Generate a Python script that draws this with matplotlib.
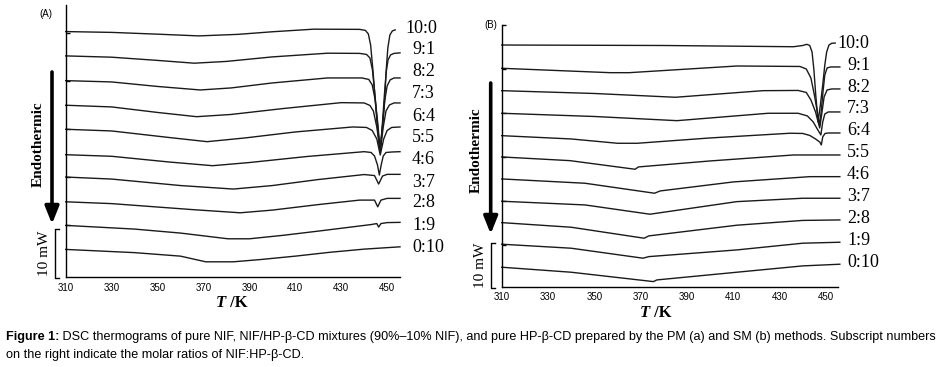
import matplotlib
matplotlib.use("Agg")
import matplotlib.pyplot as plt
from matplotlib.transforms import IdentityTransform
from matplotlib.lines import Line2D

# ---------------- data (heat flow, mW, relative to value at 310 K) ----------------
# Panel A : physical mixtures (PM)
pmT1 = [310, 330, 350, 368, 385, 400, 418, 438, 440.5, 441.8, 442.8, 443.8, 444.8, 445.9, 446.9, 447.9, 448.9, 449.6, 450.3, 451.2, 452.3, 453.5]
pmH1 = [0, -0.17, -0.54, -0.90, -0.58, -0.04, 0.50, 0.46, 0.25, -0.48, -2.77, -7.98, -14.23, -20.48, -24.65, -20.48, -14.23, -7.98, -3.40, -0.69, 0.15, 0.35]
pmT2 = [310, 330, 350, 366, 380, 400, 424, 438, 441, 442.5, 443.6, 444.7, 445.8, 446.9, 447.9, 448.8, 449.6, 450.4, 451.5, 453, 455.6]
pmH2 = [0, -0.27, -0.94, -1.52, -1.15, -0.21, 0.56, 0.52, 0.31, -0.42, -2.92, -8.13, -14.38, -20.0, -14.38, -8.13, -3.33, -0.83, 0.21, 0.52, 0.63]
pmT3 = [310, 330, 350, 368.6, 382, 400, 424, 439, 442, 443.5, 444.8, 446, 447, 448, 449, 450, 451.3, 453, 455.6]
pmH3 = [0, -0.27, -1.21, -1.94, -1.52, -0.48, 0.56, 0.56, 0.25, -0.90, -4.02, -9.23, -14.85, -9.23, -4.02, -1.10, 0.15, 0.56, 0.56]
pmT4 = [310, 330, 350, 367, 382, 405, 430, 440, 442.5, 444, 445.5, 447, 448.3, 449.5, 451, 453, 455.6]
pmH4 = [0, -0.35, -1.50, -2.38, -1.92, -0.67, 0.54, 0.48, -0.04, -1.19, -4.52, -9.73, -4.52, -1.19, 0.06, 0.48, 0.48]
pmT5 = [310, 330, 355, 371.6, 388, 410, 435, 441, 443.5, 445.5, 447, 448.5, 450, 452, 455.6]
pmH5 = [0, -0.35, -1.71, -2.58, -1.81, -0.56, 0.48, 0.38, -0.25, -2.02, -5.35, -2.02, -0.25, 0.38, 0.48]
pmT6 = [310, 330, 355, 374, 390, 415, 440, 443, 444.5, 445.8, 446.6, 447.4, 448.3, 449.5, 452, 455.6]
pmH6 = [0, -0.33, -1.52, -2.29, -1.63, -0.38, 0.63, 0.46, -0.27, -2.15, -4.23, -2.15, -0.27, 0.46, 0.56, 0.63]
pmT7 = [310, 330, 360, 383, 400, 420, 440, 444.5, 446.3, 448, 450, 455.6]
pmH7 = [0, -0.42, -1.77, -2.50, -1.77, -0.52, 0.52, 0.31, -1.46, 0.21, 0.56, 0.56]
pmT8 = [310, 330, 365, 386, 400, 420, 438, 444.5, 445.9, 447.3, 450, 455.6]
pmH8 = [0, -0.38, -1.62, -2.29, -1.73, -0.58, 0.35, 0.35, -1.04, 0.35, 0.71, 0.71]
pmT9 = [310, 340, 360, 380.7, 390, 405, 420, 443, 445.5, 446.3, 447.3, 450, 455.6]
pmH9 = [0, -0.77, -1.60, -2.79, -2.79, -2.05, -1.19, 0.17, 0.38, -0.35, 0.38, 0.58, 0.63]
pmT10 = [310, 340, 360, 371, 383, 395, 410, 425, 440, 455.6]
pmH10 = [0, -0.67, -1.40, -2.58, -2.58, -2.10, -1.40, -0.60, 0.06, 0.54]

# Panel B : solvent method (SM)
smT1 = [310, 380, 436, 440, 441.7, 443, 444, 444.8, 445.6, 446.6, 447.6, 448.6, 449.5, 450.3, 451.3, 452.5, 454]
smH1 = [0, -0.11, -0.39, -0.11, 0.16, -0.11, -1.59, -5.68, -11.4, -17.5, -13.6, -9.09, -4.55, -1.59, 0, 0.39, 0.45]
smT2 = [310, 356.8, 365, 411.6, 438.8, 441.5, 443.5, 445, 446.5, 447.3, 448, 448.8, 449.5, 450.5, 452, 456]
smH2 = [0, -1.0, -1.0, 0.52, 0.41, -0.16, -2.2, -6.07, -10.6, -12.95, -9.48, -4.93, -1.52, 0.07, 0.30, 0.30]
smT3 = [310, 350, 385, 422.8, 438, 441.5, 443.5, 445.5, 447.3, 448.3, 449.2, 450.5, 452.5, 456]
smH3 = [0, -0.64, -1.5, 0, 0.05, -0.41, -2.11, -4.84, -8.48, -4.84, -1.43, 0.16, 0.39, 0.39]
smT4 = [310, 350, 385.7, 425, 438, 442, 444.5, 446.5, 447.8, 448.6, 449.5, 451, 456]
smH4 = [0, -0.73, -1.68, 0, 0, -0.61, -1.98, -3.8, -4.93, -1.98, -0.16, 0.30, 0.30]
smT5 = [310, 340, 360, 368.5, 400, 434.5, 440, 443, 445.5, 447.3, 448, 448.6, 449.6, 451, 456]
smH5 = [0, -0.75, -1.73, -1.73, -0.52, 0.55, 0.50, 0.05, -0.75, -1.43, -2.11, -0.30, 0.50, 0.61, 0.61]
smT6 = [310, 339.5, 367.6, 369, 400, 436, 456]
smH6 = [0, -0.84, -2.8, -2.27, -0.91, 0.45, 0.45]
smT7 = [310, 346, 376, 378.4, 410, 443, 456]
smH7 = [0, -0.98, -3.25, -2.73, -0.68, 0.52, 0.52]
smT8 = [310, 346, 374, 411.5, 440, 456]
smH8 = [0, -0.84, -2.95, -0.09, 0.68, 0.68]
smT9 = [310, 340, 371.5, 373.5, 411.5, 440, 456]
smH9 = [0, -1.05, -3.55, -3.02, -0.59, 0.50, 0.61]
smT10 = [310, 340, 371, 373.5, 411.5, 440, 456]
smH10 = [0, -0.91, -3.18, -2.82, -1.30, 0.23, 0.45]
smT11 = [310, 340, 375.5, 377, 411.5, 440, 456]
smH11 = [0, -1.14, -3.27, -2.89, -1.14, 0.30, 0.68]

ratio_labels = ["10:0", "9:1", "8:2", "7:3", "6:4", "5:5", "4:6", "3:7", "2:8", "1:9", "0:10"]
xticks = [310, 330, 350, 370, 390, 410, 430, 450]

# ---------------- layout ----------------
W, H = 940, 367
pm_offsets = [50.27, 45.21, 40.06, 34.94, 29.94, 24.65, 20.0, 14.85, 9.94, 4.94]
pm_label_y = [51.0, 46.5, 41.9, 37.3, 32.7, 28.3, 23.75, 18.96, 14.6, 10.0, 5.42]
sm_offsets = [55.45, 50.16, 45.07, 39.93, 34.84, 30.0, 25.0, 19.93, 15.07, 10.16, 4.93]
sm_label_y = [55.9, 50.9, 45.9, 41.1, 36.1, 31.0, 26.1, 20.9, 16.1, 11.1, 6.1]

SERIF = ["Liberation Serif", "DejaVu Serif"]
SANS = ["Liberation Sans", "DejaVu Sans"]
LC = "#1a1a1a"

fig = plt.figure(figsize=(W / 100, H / 100), dpi=100)

def px_axes(l, r, t, b):
    return fig.add_axes([l / W, (H - b) / H, (r - l) / W, (b - t) / H])

axA = px_axes(65.7, 400, 5, 277)
axB = px_axes(501.7, 838, 25, 286.7)

pm_T = [pmT1, pmT2, pmT3, pmT4, pmT5, pmT6, pmT7, pmT8, pmT9, pmT10]
pm_H = [pmH1, pmH2, pmH3, pmH4, pmH5, pmH6, pmH7, pmH8, pmH9, pmH10]
sm_T = [smT1, smT2, smT3, smT4, smT5, smT6, smT7, smT8, smT9, smT10, smT11]
sm_H = [smH1, smH2, smH3, smH4, smH5, smH6, smH7, smH8, smH9, smH10, smH11]

for T, Hf, off in zip(pm_T, pm_H, pm_offsets):
    axA.plot(T, [h + off for h in Hf], color=LC, lw=1.0, clip_on=False, solid_joinstyle="round")
for T, Hf, off in zip(sm_T, sm_H, sm_offsets):
    axB.plot(T, [h + off for h in Hf], color=LC, lw=1.0, clip_on=False, solid_joinstyle="round")

axA.set_xlim(310, 455.6)
axA.set_ylim(-0.8, 55.8)
axB.set_xlim(310, 455.2)
axB.set_ylim(0.5, 60)

for ax, yt in ((axA, [10, 20, 30, 40, 50]), (axB, [10, 20, 30, 40, 50, 60])):
    for s in ("top", "right"):
        ax.spines[s].set_visible(False)
    for s in ("left", "bottom"):
        ax.spines[s].set_linewidth(1.0)
        ax.spines[s].set_color("black")
    ax.set_xticks(xticks)
    ax.set_xticklabels([str(v) for v in xticks], fontsize=7, family=SANS)
    ax.tick_params(axis="x", length=0, pad=4)
    ax.set_yticks(yt)
    ax.set_yticklabels([])
    ax.tick_params(axis="y", direction="in", length=3, width=1.0)
    ax.patch.set_visible(False)

# ratio labels
for i, (lab, y) in enumerate(zip(ratio_labels, pm_label_y)):
    x = 457.8 if i == 0 else 460.8
    axA.text(x, y, lab, fontsize=13, family=SERIF, va="center", ha="left", clip_on=False)
for i, (lab, y) in enumerate(zip(ratio_labels, sm_label_y)):
    x = 455.1 if i == 0 else 459.1
    axB.text(x, y, lab, fontsize=13, family=SERIF, va="center", ha="left", clip_on=False)

# ---------------- annotations in figure pixels ----------------
ident = IdentityTransform()

def ftext(x, y, s, **kw):
    return fig.text(x, H - y, s, transform=ident, **kw)

ftext(45.7, 14, "(A)", fontsize=7, family=SANS, ha="center", va="center")
ftext(491, 25, "(B)", fontsize=7, family=SANS, ha="center", va="center")

for (xe, ye) in ((38, 144), (476.7, 150)):
    ftext(xe, ye, "Endothermic", fontsize=11, family=SERIF, weight="bold",
          rotation=90, ha="center", va="center")

for (x, y0, y1) in ((52, 72, 224), (490.7, 83, 234)):
    fig.add_artist(matplotlib.patches.FancyArrowPatch(
        (x, H - y0), (x, H - y1), transform=ident,
        arrowstyle="-|>,head_length=0.75,head_width=0.3", mutation_scale=14,
        lw=2.6, color="black", shrinkA=0, shrinkB=0))

for (x, y0, y1, tx, ty) in ((55, 229, 278, 44, 253), (491, 243, 288, 480, 265)):
    fig.add_artist(Line2D([x + 4, x, x, x + 4], [H - y0, H - y0, H - y1, H - y1],
                          transform=ident, color="black", lw=1.0))
    ftext(tx, ty, "10 mW", fontsize=11, family=SERIF, rotation=90, ha="center", va="center")

renderer = fig.canvas.get_renderer()

def pieces(x, y, parts, ha="center"):
    texts = []
    for s, kw in parts:
        texts.append(fig.text(0, H - y, s, transform=ident, va="center", ha="left", **kw))
    widths = [t.get_window_extent(renderer).width for t in texts]
    total = sum(widths)
    cx = x - total / 2 if ha == "center" else x
    for t, w in zip(texts, widths):
        t.set_x(cx)
        cx += w
    return total

for (cx, cy) in ((232, 303), (656, 313)):
    pieces(cx, cy, [("T", dict(fontsize=12, family=SERIF, weight="bold", style="italic")),
                    (" /K", dict(fontsize=12, family=SERIF, weight="bold"))])

# caption
CAP = ["Liberation Sans Narrow", "Liberation Sans", "DejaVu Sans"]
line1_rest = (" DSC thermograms of pure NIF, NIF/HP-\u03b2-CD mixtures (90%\u201310% NIF), and pure HP-\u03b2-CD "
              "prepared by the PM (a) and SM (b) methods. Subscript numbers")
line2 = "on the right indicate the molar ratios of NIF:HP-\u03b2-CD."
fs = 9.0
t1 = fig.text(0, 0, "Figure 1:", fontsize=fs, family=CAP, weight="bold", transform=ident)
t2 = fig.text(0, 0, line1_rest, fontsize=fs, family=CAP, transform=ident)
wtot = t1.get_window_extent(renderer).width + t2.get_window_extent(renderer).width
t1.remove(); t2.remove()
fs = fs * 929.0 / wtot
pieces(6, 337, [("Figure 1:", dict(fontsize=fs, family=CAP, weight="bold")),
                (line1_rest, dict(fontsize=fs, family=CAP))], ha="left")
ftext(6, 355, line2, fontsize=fs, family=CAP, ha="left", va="center")

fig.savefig("out.png", dpi=100)
